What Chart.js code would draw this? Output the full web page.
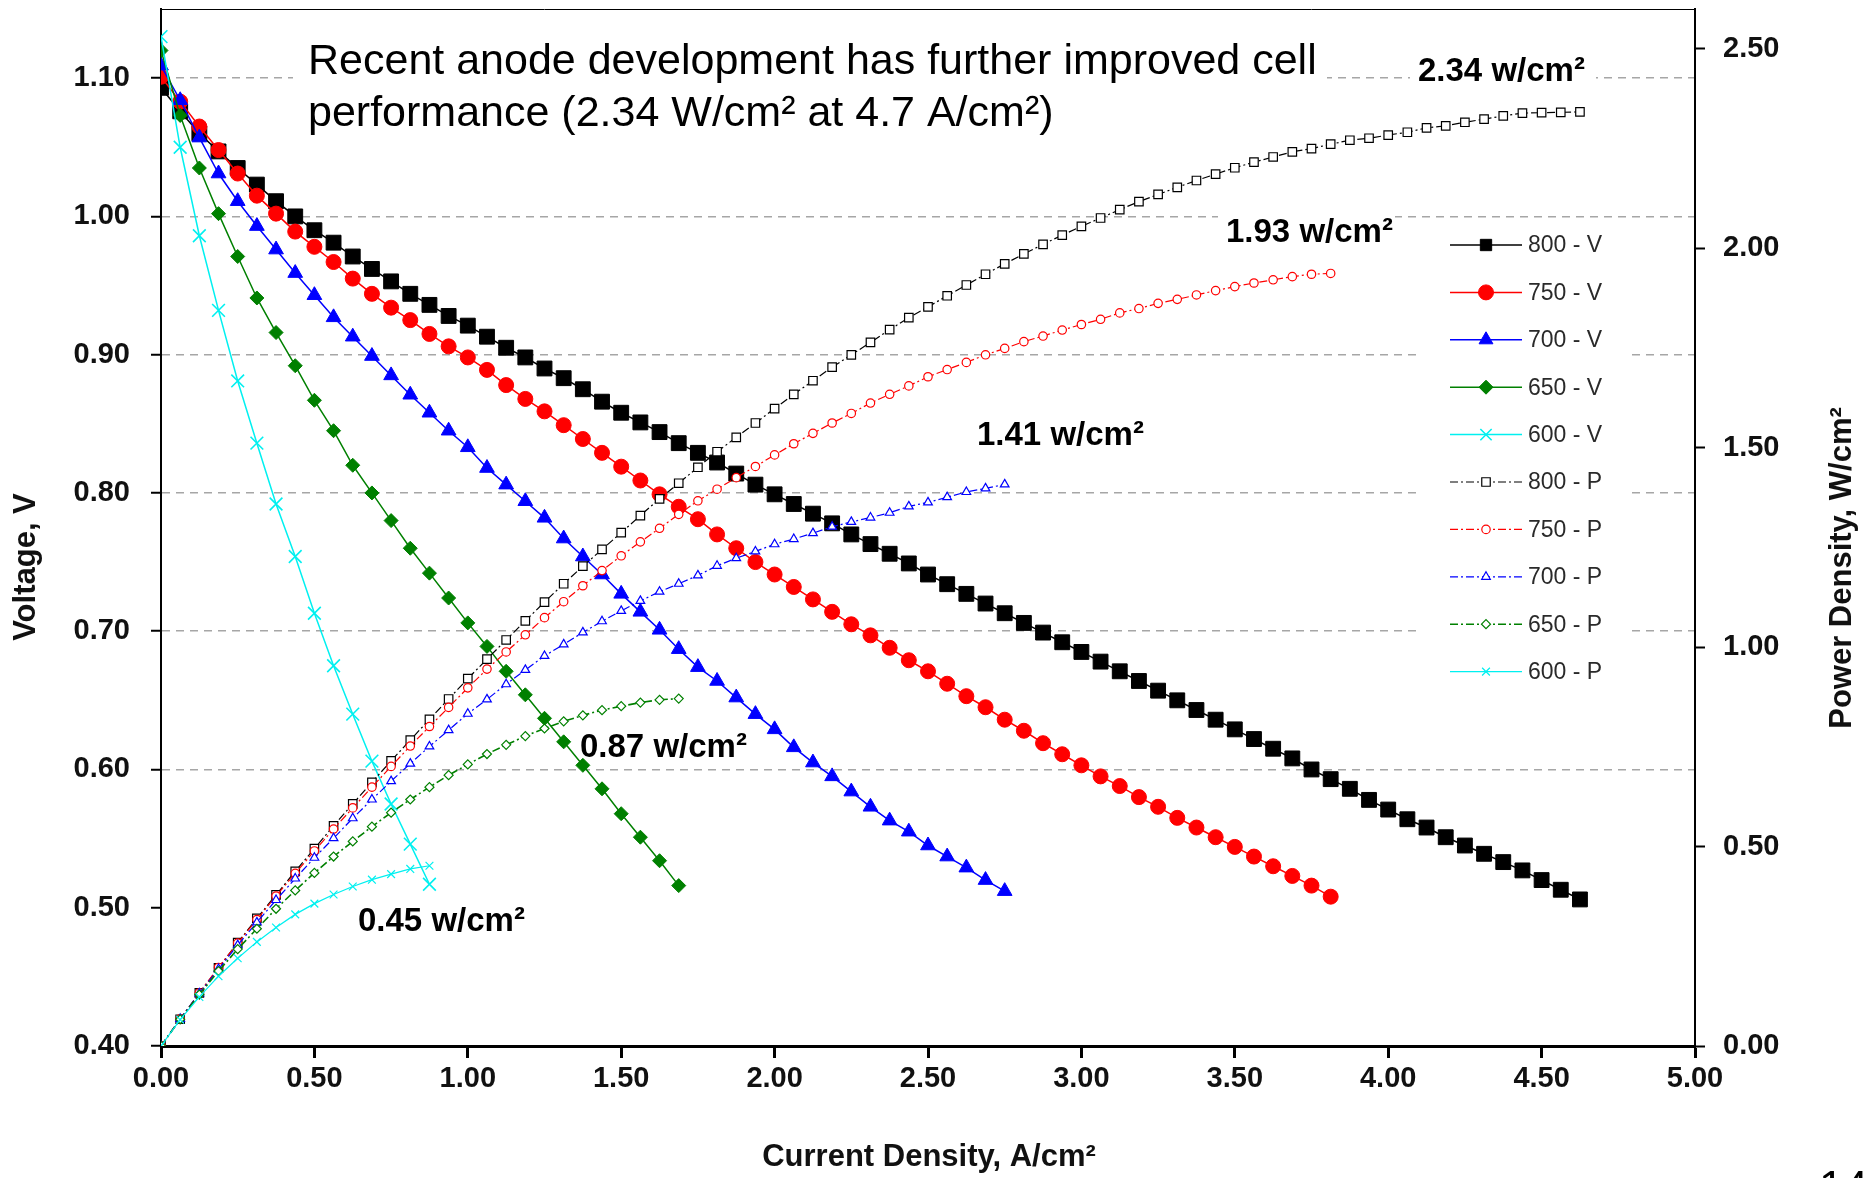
<!DOCTYPE html>
<html>
<head>
<meta charset="utf-8">
<title>Cell performance</title>
<script src="https://cdn.jsdelivr.net/npm/chart.js"></script>
<style>
  html, body { margin: 0; padding: 0; background: #fff; }
  canvas { display: block; }
</style>
</head>
<body>
<canvas id="chartCelda" width="1874" height="1178"></canvas>
<script>
// current density, A/cm2 (same steps for every curve)
var current = [0, 0.0625, 0.125, 0.1875, 0.25, 0.3125, 0.375, 0.4375, 0.5, 0.5625,
  0.625, 0.6875, 0.75, 0.8125, 0.875, 0.9375, 1.0, 1.0625, 1.125, 1.1875,
  1.25, 1.3125, 1.375, 1.4375, 1.5, 1.5625, 1.625, 1.6875, 1.75, 1.8125,
  1.875, 1.9375, 2.0, 2.0625, 2.125, 2.1875, 2.25, 2.3125, 2.375, 2.4375,
  2.5, 2.5625, 2.625, 2.6875, 2.75, 2.8125, 2.875, 2.9375, 3.0, 3.0625,
  3.125, 3.1875, 3.25, 3.3125, 3.375, 3.4375, 3.5, 3.5625, 3.625, 3.6875,
  3.75, 3.8125, 3.875, 3.9375, 4.0, 4.0625, 4.125, 4.1875, 4.25, 4.3125,
  4.375, 4.4375, 4.5, 4.5625, 4.625];

// voltage, V
var v800 = [1.093, 1.076, 1.060, 1.047, 1.035, 1.023, 1.011, 1.000, 0.990, 0.981,
  0.971, 0.962, 0.953, 0.944, 0.936, 0.928, 0.921, 0.913, 0.905, 0.898,
  0.890, 0.883, 0.875, 0.866, 0.858, 0.851, 0.844, 0.836, 0.829, 0.822,
  0.814, 0.806, 0.799, 0.792, 0.785, 0.778, 0.770, 0.763, 0.756, 0.749,
  0.741, 0.734, 0.727, 0.720, 0.713, 0.706, 0.699, 0.692, 0.685, 0.678,
  0.671, 0.664, 0.657, 0.650, 0.643, 0.636, 0.629, 0.622, 0.615, 0.608,
  0.600, 0.593, 0.586, 0.578, 0.571, 0.564, 0.558, 0.551, 0.545, 0.539,
  0.533, 0.527, 0.520, 0.513, 0.506];
var v750 = [1.101, 1.083, 1.065, 1.048, 1.031, 1.015, 1.002, 0.989, 0.978, 0.967,
  0.955, 0.944, 0.934, 0.925, 0.915, 0.906, 0.898, 0.889, 0.878, 0.868,
  0.859, 0.849, 0.839, 0.829, 0.819, 0.809, 0.799, 0.790, 0.781, 0.770,
  0.760, 0.750, 0.741, 0.732, 0.723, 0.714, 0.705, 0.697, 0.688, 0.679,
  0.671, 0.662, 0.653, 0.645, 0.636, 0.628, 0.619, 0.611, 0.603, 0.595,
  0.588, 0.580, 0.573, 0.565, 0.558, 0.551, 0.544, 0.537, 0.530, 0.523,
  0.516, 0.508];
var v700 = [1.109, 1.084, 1.057, 1.031, 1.011, 0.993, 0.976, 0.959, 0.943, 0.927,
  0.913, 0.899, 0.885, 0.871, 0.858, 0.845, 0.833, 0.818, 0.806, 0.794,
  0.782, 0.767, 0.754, 0.741, 0.727, 0.714, 0.701, 0.687, 0.674, 0.664,
  0.652, 0.640, 0.629, 0.616, 0.605, 0.595, 0.584, 0.573, 0.563, 0.555,
  0.545, 0.537, 0.529, 0.520, 0.512];
var v650 = [1.120, 1.073, 1.035, 1.002, 0.971, 0.941, 0.916, 0.892, 0.867, 0.845,
  0.820, 0.800, 0.780, 0.760, 0.742, 0.724, 0.706, 0.689, 0.671, 0.654,
  0.637, 0.620, 0.603, 0.586, 0.568, 0.551, 0.534, 0.516];
var v600 = [1.130, 1.050, 0.986, 0.932, 0.881, 0.836, 0.792, 0.754, 0.713, 0.675,
  0.640, 0.606, 0.575, 0.546, 0.517];

// power density, W/cm2
var p800 = [0, 0.067, 0.133, 0.196, 0.259, 0.320, 0.379, 0.438, 0.495, 0.552,
  0.607, 0.661, 0.715, 0.767, 0.819, 0.870, 0.921, 0.970, 1.018, 1.066,
  1.113, 1.159, 1.203, 1.245, 1.287, 1.330, 1.372, 1.411, 1.451, 1.490,
  1.526, 1.562, 1.598, 1.634, 1.668, 1.702, 1.733, 1.764, 1.796, 1.826,
  1.853, 1.881, 1.908, 1.935, 1.961, 1.986, 2.010, 2.033, 2.055, 2.076,
  2.097, 2.117, 2.135, 2.153, 2.170, 2.186, 2.202, 2.216, 2.229, 2.242,
  2.250, 2.261, 2.271, 2.276, 2.284, 2.291, 2.302, 2.307, 2.316, 2.324,
  2.332, 2.339, 2.340, 2.341, 2.342];
var p750 = [0, 0.068, 0.133, 0.197, 0.258, 0.317, 0.376, 0.433, 0.489, 0.544,
  0.597, 0.649, 0.701, 0.752, 0.801, 0.849, 0.898, 0.945, 0.988, 1.031,
  1.074, 1.114, 1.154, 1.192, 1.229, 1.264, 1.298, 1.333, 1.367, 1.396,
  1.425, 1.453, 1.482, 1.510, 1.536, 1.562, 1.586, 1.612, 1.634, 1.655,
  1.678, 1.696, 1.714, 1.733, 1.749, 1.766, 1.780, 1.795, 1.809, 1.822,
  1.838, 1.849, 1.862, 1.872, 1.883, 1.894, 1.904, 1.913, 1.921, 1.929,
  1.935, 1.937];
var p700 = [0, 0.068, 0.132, 0.193, 0.253, 0.310, 0.366, 0.420, 0.472, 0.521,
  0.571, 0.618, 0.664, 0.708, 0.751, 0.792, 0.833, 0.869, 0.907, 0.943,
  0.978, 1.007, 1.037, 1.065, 1.091, 1.116, 1.139, 1.159, 1.180, 1.204,
  1.223, 1.240, 1.258, 1.271, 1.286, 1.302, 1.314, 1.325, 1.337, 1.353,
  1.363, 1.376, 1.389, 1.398, 1.408];
var p650 = [0, 0.067, 0.129, 0.188, 0.243, 0.294, 0.344, 0.390, 0.434, 0.475,
  0.513, 0.550, 0.585, 0.618, 0.649, 0.679, 0.706, 0.732, 0.755, 0.777,
  0.796, 0.814, 0.829, 0.842, 0.852, 0.861, 0.868, 0.871];
var p600 = [0, 0.066, 0.123, 0.175, 0.220, 0.261, 0.297, 0.330, 0.357, 0.380,
  0.400, 0.417, 0.431, 0.444, 0.452];

var temperaturas = ['800', '750', '700', '650', '600'];
var colores = ['#000000', '#ff0000', '#0000ff', '#008000', '#00f0f0'];
var peakLabels = ['2.34', '1.93', '1.41', '0.87', '0.45'];
var noteLines = ['Recent anode development has further improved cell',
  'performance (2.34 W/cm\u00b2 at 4.7 A/cm\u00b2)'];

var FONT = '"Liberation Sans", Arial, Helvetica, sans-serif';

// marker look per temperature
var vStyle = ['rect', 'circle', 'triangle', 'rectRot', 'crossRot'];
var vRadius = [10.5, 7.5, 8.5, 7, 9];
var pRadius = [6, 4.2, 5, 4.5, 5.5];

function puntos(valores) {
  var out = [];
  for (var i = 0; i < valores.length; i++) {
    out.push({ x: current[i], y: valores[i] });
  }
  return out;
}

var voltajes = [v800, v750, v700, v650, v600];
var potencias = [p800, p750, p700, p650, p600];
var dataset = [];

//curvas de voltaje
for (var i = 0; i < 5; i++) {
  dataset.push({
    label: temperaturas[i] + ' - V',
    data: puntos(voltajes[i]),
    yAxisID: 'y',
    showLine: true,
    borderColor: colores[i],
    backgroundColor: colores[i],
    borderWidth: 1.5,
    pointStyle: vStyle[i],
    pointRadius: vRadius[i],
    pointBorderWidth: i == 4 ? 1.6 : 1,
    pointBackgroundColor: colores[i],
    pointBorderColor: colores[i],
    order: 9 - i
  });
}
//curvas de potencia
for (var i = 0; i < 5; i++) {
  dataset.push({
    label: temperaturas[i] + ' - P',
    data: puntos(potencias[i]),
    yAxisID: 'y2',
    showLine: true,
    borderColor: colores[i],
    backgroundColor: '#ffffff',
    borderWidth: i == 3 ? 1.6 : 1.2,
    borderDash: i == 4 ? [] : [8, 3, 2, 3],
    pointStyle: vStyle[i],
    pointRadius: pRadius[i],
    pointBorderWidth: 1.2,
    pointBackgroundColor: '#ffffff',
    pointBorderColor: colores[i],
    order: 4 - i
  });
}

var decor = {
  id: 'decor',
  beforeDatasetsDraw: function (chart) {
    var ctx = chart.ctx;
    var a = chart.chartArea;
    ctx.save();
    // white boxes behind the texts and the legend
    ctx.fillStyle = '#ffffff';
    ctx.fillRect(293, 22, 1034, 118);
    ctx.fillRect(1410, 48, 186, 44);
    ctx.fillRect(1218, 207, 177, 45);
    ctx.fillRect(1422, 222, 208, 478);

    // thin frame on top
    ctx.strokeStyle = '#000';
    ctx.lineWidth = 1;
    ctx.beginPath();
    ctx.moveTo(a.left, a.top + 0.5);
    ctx.lineTo(a.right, a.top + 0.5);
    ctx.stroke();

    // note text
    ctx.fillStyle = '#000';
    ctx.textAlign = 'left';
    ctx.textBaseline = 'alphabetic';
    ctx.font = '43px ' + FONT;
    ctx.fillText(noteLines[0], 308, 74);
    ctx.fillText(noteLines[1], 308, 126);

    // peak power labels
    var pos = [[1418, 81], [1226, 242], [977, 445], [580, 757], [358, 931]];
    ctx.font = 'bold 33px ' + FONT;
    for (var i = 0; i < peakLabels.length; i++) {
      ctx.fillText(peakLabels[i] + ' w/cm\u00b2', pos[i][0], pos[i][1]);
    }
    ctx.restore();
  },
  afterDraw: function (chart) {
    var ctx = chart.ctx;
    ctx.save();
    ctx.fillStyle = '#111';
    ctx.textAlign = 'center';
    ctx.textBaseline = 'middle';
    ctx.font = 'bold 31px ' + FONT;

    ctx.save();
    ctx.translate(26, 567);
    ctx.rotate(-Math.PI / 2);
    ctx.fillText('Voltage, V', 0, 0);
    ctx.restore();

    ctx.save();
    ctx.translate(1842, 568);
    ctx.rotate(-Math.PI / 2);
    ctx.fillText('Power Density, W/cm\u00b2', 0, 0);
    ctx.restore();

    ctx.fillText('Current Density, A/cm\u00b2', 929, 1157);

    // slide number, mostly cut off
    ctx.textAlign = 'left';
    ctx.textBaseline = 'alphabetic';
    ctx.font = '44px ' + FONT;
    ctx.fillStyle = '#000';
    ctx.fillText('14', 1819, 1202);

    // legend
    var sets = chart.data.datasets;
    var y0 = 245, dy = 47.4;
    for (var i = 0; i < sets.length; i++) {
      var ds = sets[i];
      var y = y0 + i * dy;
      ctx.strokeStyle = ds.borderColor;
      ctx.lineWidth = ds.borderWidth;
      ctx.setLineDash(ds.borderDash || []);
      ctx.beginPath();
      ctx.moveTo(1450, y);
      ctx.lineTo(1522, y);
      ctx.stroke();
      ctx.setLineDash([]);
      ctx.fillStyle = ds.pointBackgroundColor;
      ctx.strokeStyle = ds.pointBorderColor;
      ctx.lineWidth = ds.pointBorderWidth;
      var r = i < 5 ? Math.min(ds.pointRadius, 8) : ds.pointRadius;
      if (Chart.helpers && Chart.helpers.drawPoint) {
        Chart.helpers.drawPoint(ctx, { pointStyle: ds.pointStyle, radius: r, rotation: 0, borderWidth: ds.pointBorderWidth }, 1486, y);
      } else {
        ctx.beginPath();
        ctx.arc(1486, y, r, 0, Math.PI * 2);
        ctx.fill();
        ctx.stroke();
      }
      ctx.fillStyle = '#2a2a2a';
      ctx.font = '23px ' + FONT;
      ctx.textAlign = 'left';
      ctx.textBaseline = 'middle';
      ctx.fillText(ds.label, 1528, y + 1);
    }
    ctx.restore();
  }
};

var tickFont = { family: FONT, size: 29, weight: 'bold' };

// fixed axis sizes so the plot area matches the slide
function fijarAncho(w) {
  return function (s) {
    s.width = w;
    s.paddingTop = 0;
    s.paddingBottom = 0;
  };
}

var chartCelda = new Chart(document.getElementById('chartCelda'), {
  type: 'scatter',
  data: { datasets: dataset },
  plugins: [decor],
  options: {
    responsive: false,
    animation: false,
    devicePixelRatio: 1,
    layout: { autoPadding: false, padding: { top: 9, left: 0, right: 0, bottom: 0 } },
    plugins: {
      legend: { display: false },
      tooltip: { enabled: false }
    },
    elements: { line: { tension: 0 } },
    scales: {
      x: {
        type: 'linear',
        position: 'bottom',
        min: 0,
        max: 5,
        ticks: {
          stepSize: 0.5,
          autoSkip: false,
          maxRotation: 0,
          padding: 4,
          color: '#111',
          font: tickFont,
          callback: function (v) { return v.toFixed(2); }
        },
        grid: { drawOnChartArea: false, drawTicks: true, tickLength: 12, tickWidth: 3, tickColor: '#000' },
        border: { color: '#000', width: 3 },
        afterFit: function (s) {
          s.height = 132;
          s.paddingLeft = 0;
          s.paddingRight = 0;
        }
      },
      y: {
        position: 'left',
        min: 0.4,
        max: 1.15,
        afterBuildTicks: function (s) {
          s.ticks = s.ticks.filter(function (t) { return t.value <= 1.1001; });
        },
        ticks: {
          stepSize: 0.1,
          padding: 21,
          color: '#111',
          font: tickFont,
          callback: function (v) { return v.toFixed(2); }
        },
        grid: {
          color: function (c) {
            return (c.tick && c.tick.value > 0.55) ? '#a6a6a6' : 'rgba(0,0,0,0)';
          },
          lineWidth: 1.5,
          drawTicks: true,
          tickLength: 10,
          tickWidth: 2,
          tickColor: '#000'
        },
        border: { color: '#000', width: 2, dash: [8, 6] },
        afterFit: fijarAncho(161)
      },
      y2: {
        position: 'right',
        min: 0,
        max: 2.6,
        afterBuildTicks: function (s) {
          s.ticks = s.ticks.filter(function (t) { return t.value <= 2.5001; });
        },
        ticks: {
          stepSize: 0.5,
          padding: 18,
          color: '#111',
          font: tickFont,
          callback: function (v) { return v.toFixed(2); }
        },
        grid: { drawOnChartArea: false, drawTicks: true, tickLength: 10, tickWidth: 2, tickColor: '#000' },
        border: { color: '#000', width: 2 },
        afterFit: fijarAncho(179)
      }
    }
  }
});
</script>
</body>
</html>
